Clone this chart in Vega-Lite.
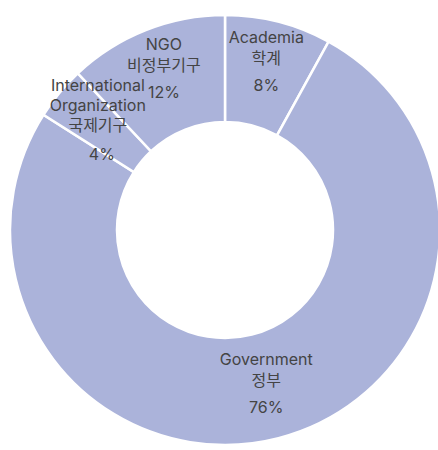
{
  "$schema": "https://vega.github.io/schema/vega-lite/v6.json",
  "width": 430,
  "height": 430,
  "padding": {"left": 5, "top": 10, "right": 0, "bottom": 0},
  "background": "white",
  "view": {"stroke": null},
  "data": {
    "values": [
      {"idx": 1, "name": "Academia\n학계", "value": 8, "pct": "8%"},
      {"idx": 2, "name": "Government\n정부", "value": 76, "pct": "76%"},
      {"idx": 3, "name": "International\nOrganization\n국제기구", "value": 4, "pct": "4%"},
      {"idx": 4, "name": "NGO\n비정부기구", "value": 12, "pct": "12%"}
    ]
  },
  "encoding": {
    "theta": {"field": "value", "type": "quantitative", "stack": true},
    "order": {"field": "idx", "type": "quantitative"}
  },
  "layer": [
    {
      "mark": {"type": "arc", "outerRadius": 215, "innerRadius": 108, "color": "#abb3da", "stroke": "white", "strokeWidth": 2.5}
    },
    {
      "mark": {"type": "text", "radius": 166, "baseline": "top", "align": "center", "dy": -39, "lineBreak": "\n", "lineHeight": 21, "font": "Inter, Noto Sans CJK KR", "fontSize": 16, "color": "#444444"},
      "encoding": {"text": {"condition": {"test": "datum.idx != 3", "field": "name"}, "value": ""}}
    },
    {
      "mark": {"type": "text", "radius": 165, "baseline": "top", "align": "center", "dy": -47, "lineBreak": "\n", "lineHeight": 20, "font": "Inter, Noto Sans CJK KR", "fontSize": 16, "color": "#444444"},
      "encoding": {"text": {"condition": {"test": "datum.idx == 3", "field": "name"}, "value": ""}}
    },
    {
      "mark": {"type": "text", "radius": 166, "baseline": "top", "align": "center", "dy": 9, "font": "Inter, Noto Sans CJK KR", "fontSize": 16, "color": "#444444"},
      "encoding": {"text": {"condition": {"test": "datum.idx != 3", "field": "pct"}, "value": ""}}
    },
    {
      "mark": {"type": "text", "radius": 165, "baseline": "top", "align": "center", "dy": 22, "dx": 4, "font": "Inter, Noto Sans CJK KR", "fontSize": 16, "color": "#444444"},
      "encoding": {"text": {"condition": {"test": "datum.idx == 3", "field": "pct"}, "value": ""}}
    }
  ]
}
